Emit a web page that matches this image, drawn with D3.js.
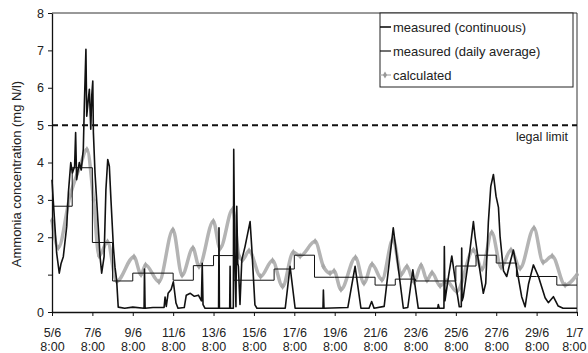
<!DOCTYPE html>
<html>
<head>
<meta charset="utf-8">
<script src="https://cdn.jsdelivr.net/npm/d3@7"></script>
<style>
  body { margin: 0; background: #fff; }
  svg text { font-family: "Liberation Sans", Arial, sans-serif; fill: #222; }
  .axis path, .axis line { stroke: #111; }
</style>
</head>
<body>
<div id="chart-area"></div>
<script>
// x in days after 5/6 8:00
const xTickDays = [0, 2, 4, 6, 8, 10, 12, 14, 16, 18, 20, 22, 24, 26];
const xTickDates = ['5/6', '7/6', '9/6', '11/6', '13/6', '15/6', '17/6',
  '19/6', '21/6', '23/6', '25/6', '27/6', '29/6', '1/7'];
const xTickTime = '8:00';
const yTickValues = [0, 1, 2, 3, 4, 5, 6, 7, 8];
const yTickLabels = ['0', '', '2', '3', '4', '5', '6', '7', '8'];
const legalLimit = 5;

// measured (daily average), one value per day starting 8:00
const dailyAverage = [2.83, 3.86, 1.86, 0.83, 1.04, 1.04, 0.85, 1.24, 1.51, 0.85,
  0.85, 1.15, 1.52, 0.93, 0.93, 0.93, 0.72, 0.88, 0.83, 0.83,
  1.23, 1.52, 1.31, 0.95, 0.95, 0.72];

// measured (continuous) [day, mg N/l]
const measuredCont = [
  [0.00, 3.54], [0.06, 3.0], [0.23, 1.58], [0.36, 1.04], [0.45, 1.3], [0.56, 1.48],
  [0.73, 2.29], [0.81, 3.18], [0.93, 4.0], [1.01, 3.72], [1.12, 3.9], [1.17, 4.8],
  [1.22, 3.54], [1.35, 4.0], [1.45, 3.8], [1.55, 4.35], [1.60, 5.5], [1.68, 7.03],
  [1.72, 5.24], [1.80, 5.7], [1.85, 5.96], [1.92, 4.89], [1.97, 5.8], [2.02, 6.18],
  [2.05, 4.8], [2.13, 3.72], [2.29, 2.29], [2.38, 1.48], [2.46, 1.04], [2.58, 1.48],
  [2.67, 3.27], [2.76, 4.08], [2.84, 3.9], [2.92, 3.0], [3.04, 1.74], [3.12, 1.2],
  [3.20, 0.86], [3.28, 0.13], [3.6, 0.1], [4.0, 0.13], [4.56, 0.1], [4.58, 1.15],
  [4.61, 0.1], [5.0, 0.12], [5.55, 0.12], [5.60, 0.4], [5.66, 0.15], [5.75, 0.5],
  [5.90, 0.6], [6.01, 0.81], [6.14, 0.24], [6.24, 0.1], [6.55, 0.12], [6.65, 0.45],
  [6.85, 0.5], [7.05, 0.42], [7.25, 0.45], [7.40, 0.3], [7.44, 1.3], [7.48, 0.2],
  [7.58, 0.1], [8.25, 0.1], [8.27, 2.25], [8.29, 0.1], [8.80, 0.1], [8.82, 1.22],
  [8.84, 0.1], [8.98, 0.1], [9.00, 4.35], [9.05, 1.5], [9.11, 0.14], [9.15, 2.83],
  [9.20, 1.3], [9.23, 1.22], [9.31, 0.2], [9.40, 1.4], [9.56, 1.75], [9.81, 2.42],
  [9.89, 1.75], [10.05, 0.19], [10.15, 0.1], [11.55, 0.1], [11.79, 1.22], [12.04, 0.1],
  [13.42, 0.1], [13.44, 0.59], [13.47, 0.1], [14.65, 0.12], [15.01, 1.22], [15.30, 0.1],
  [15.70, 0.1], [15.83, 0.28], [15.95, 0.1], [16.45, 0.15], [16.90, 2.25], [17.40, 0.1],
  [17.62, 0.12], [17.87, 1.13], [18.14, 0.1], [19.10, 0.1], [19.13, 0.2], [19.18, 0.1],
  [19.41, 0.1], [19.43, 1.75], [19.46, 0.3], [19.65, 1.0], [19.80, 1.5], [20.04, 0.59],
  [20.17, 0.14], [20.27, 0.14], [20.29, 1.71], [20.31, 0.3], [20.37, 0.41], [20.70, 1.66],
  [20.87, 2.42], [20.95, 2.02], [21.11, 1.4], [21.36, 0.5], [21.48, 0.77], [21.61, 2.4],
  [21.73, 3.36], [21.86, 3.68], [21.99, 3.1], [22.11, 2.8], [22.19, 2.02], [22.36, 1.1],
  [22.52, 0.95], [22.68, 1.31], [22.85, 1.66], [23.02, 1.15], [23.26, 0.41], [23.43, 0.14],
  [23.60, 0.75], [23.84, 1.26], [24.09, 0.95], [24.42, 0.38], [24.58, 0.25], [24.83, 0.41],
  [25.07, 0.16], [25.31, 0.1], [26.0, 0.1]
];

// calculated [day, mg N/l]
const calculated = [
  [0.00, 2.45], [0.31, 1.72], [0.89, 3.1], [1.39, 3.9], [1.73, 4.35], [2.06, 3.0],
  [2.33, 1.5], [2.75, 1.88], [3.20, 0.82], [4.06, 1.48], [4.41, 1.0], [4.63, 1.26],
  [5.30, 0.81], [5.99, 2.2], [6.44, 0.98], [6.98, 1.71], [7.28, 1.22], [7.99, 2.43],
  [8.32, 1.7], [8.95, 2.75], [9.26, 1.5], [9.44, 1.4], [9.76, 1.64], [10.33, 0.95],
  [10.92, 1.38], [11.42, 0.68], [11.95, 1.6], [12.29, 1.5], [13.03, 1.89], [13.44, 1.22],
  [13.77, 1.04], [13.97, 1.1], [14.31, 0.6], [15.03, 1.46], [15.45, 0.77], [15.85, 1.28],
  [16.34, 0.86], [16.89, 1.95], [17.29, 1.0], [17.58, 1.22], [17.93, 0.8], [18.28, 1.25],
  [18.57, 0.85], [18.82, 1.05], [19.22, 0.7], [19.55, 0.82], [20.04, 0.55], [20.87, 1.66],
  [21.30, 1.15], [21.78, 2.13], [22.24, 1.2], [22.73, 1.66], [23.18, 1.17], [23.87, 2.25],
  [24.32, 1.33], [24.77, 1.5], [25.41, 0.72], [26.00, 1.0]
];

const W = 588, H = 353;
const margin = { left: 52, right: 11, top: 13, bottom: 41 };
const width = W - margin.left - margin.right;
const height = H - margin.top - margin.bottom;

const svg = d3.select('#chart-area').append('svg')
  .attr('width', W).attr('height', H);
const g = svg.append('g')
  .attr('transform', 'translate(' + margin.left + ',' + margin.top + ')');

const x = d3.scaleLinear().domain([0, 26]).range([0, width]);
const y = d3.scaleLinear().domain([0, 8]).range([height, 0]);

// frame top and right
g.append('path')
  .attr('d', 'M0,0H' + width + 'V' + height)
  .attr('fill', 'none').attr('stroke', '#333').attr('stroke-width', 1);

// legal limit
g.append('line')
  .attr('x1', 0).attr('x2', width)
  .attr('y1', y(legalLimit)).attr('y2', y(legalLimit))
  .attr('stroke', '#111').attr('stroke-width', 2)
  .attr('stroke-dasharray', '6,4');
g.append('text')
  .attr('x', width - 9).attr('y', y(legalLimit) + 16)
  .attr('text-anchor', 'end').attr('font-size', '12.5px')
  .text('legal limit');

// calculated (gray with markers)
const calcLine = d3.line()
  .x(d => x(d[0])).y(d => y(d[1]))
  .curve(d3.curveMonotoneX);
g.append('path')
  .datum(calculated)
  .attr('d', calcLine)
  .attr('fill', 'none').attr('stroke', '#b4b4b4').attr('stroke-width', 3.5);
g.selectAll('.calc-pt')
  .data(calculated)
  .enter().append('path')
  .attr('class', 'calc-pt')
  .attr('transform', d => 'translate(' + x(d[0]) + ',' + y(d[1]) + ')')
  .attr('d', d3.symbol(d3.symbolDiamond, 14))
  .attr('fill', '#a8a8a8');

// daily average step line
const stepData = dailyAverage.map((v, i) => [i, v]);
stepData.push([dailyAverage.length, dailyAverage[dailyAverage.length - 1]]);
g.append('path')
  .datum(stepData)
  .attr('d', d3.line().x(d => x(d[0])).y(d => y(d[1])).curve(d3.curveStepAfter))
  .attr('fill', 'none').attr('stroke', '#111').attr('stroke-width', 1);

// continuous measurement
g.append('path')
  .datum(measuredCont)
  .attr('d', d3.line().x(d => x(d[0])).y(d => y(d[1])))
  .attr('fill', 'none').attr('stroke', '#111').attr('stroke-width', 1.6)
  .attr('stroke-linejoin', 'round');

// axes
const yAxis = d3.axisLeft(y)
  .tickValues(yTickValues)
  .tickFormat((d, i) => yTickLabels[i])
  .tickSize(4).tickSizeOuter(0);
const ya = g.append('g').attr('class', 'axis').call(yAxis);
ya.select('.domain').attr('stroke-width', 1.3);
ya.selectAll('text').attr('font-size', '12.5px').attr('x', -8);

const xAxis = d3.axisBottom(x)
  .tickValues(xTickDays)
  .tickFormat('')
  .tickSize(4).tickSizeOuter(0);
const xa = g.append('g').attr('class', 'axis')
  .attr('transform', 'translate(0,' + height + ')')
  .call(xAxis);
xa.select('.domain').attr('stroke-width', 1.6);
const last = xTickDays.length - 1;
xa.selectAll('.tick').append('text')
  .attr('text-anchor', (d, i) => i === last ? 'end' : 'middle')
  .attr('x', (d, i) => i === last ? 6 : 0)
  .attr('font-size', '12.5px')
  .attr('y', 25).text((d, i) => xTickDates[i]);
xa.selectAll('.tick').append('text')
  .attr('text-anchor', (d, i) => i === last ? 'end' : 'middle')
  .attr('x', (d, i) => i === last ? 9 : 0)
  .attr('font-size', '12.5px')
  .attr('y', 39).text(xTickTime);

// y label
svg.append('text')
  .attr('transform', 'translate(21,' + 174 + ') rotate(-90)')
  .attr('text-anchor', 'middle').attr('font-size', '13px')
  .text('Ammonia concentration (mg N/l)');

// legend
const lg = g.append('g').attr('transform', 'translate(' + (380 - margin.left) + ',0)');
lg.append('rect')
  .attr('x', 0).attr('y', 0).attr('width', 193).attr('height', 74)
  .attr('fill', '#fff').attr('stroke', '#222').attr('stroke-width', 1);
const legendItems = ['measured (continuous)', 'measured (daily average)', 'calculated'];
const legendColor = ['#111', '#111', '#aaa'];
legendItems.forEach((name, i) => {
  const ly = 14 + i * 24;
  lg.append('line').attr('x1', 0).attr('x2', 11).attr('y1', ly).attr('y2', ly)
    .attr('stroke', legendColor[i]).attr('stroke-width', i === 0 ? 1.6 : 1.2);
  if (i === 2) {
    lg.append('path').attr('transform', 'translate(5,' + ly + ')')
      .attr('d', d3.symbol(d3.symbolDiamond, 14)).attr('fill', '#999');
  }
  lg.append('text').attr('x', 13).attr('y', ly + 4.5)
    .attr('font-size', '13px').text(name);
});
</script>
</body>
</html>
